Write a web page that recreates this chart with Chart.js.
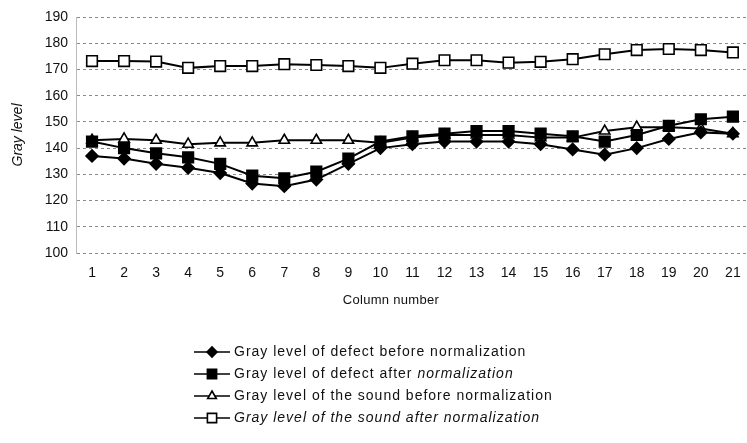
<!DOCTYPE html>
<html>
<head>
<meta charset="utf-8">
<script src="https://cdn.jsdelivr.net/npm/chart.js@4"></script>
<style>
  html, body { margin: 0; padding: 0; background: #fff; overflow: hidden; }
  #wrap { width: 758px; height: 443px; }
</style>
</head>
<body>
<div id="wrap"><canvas id="myChart"></canvas></div>
<script>
// values
const columns = ['1','2','3','4','5','6','7','8','9','10','11','12','13','14','15','16','17','18','19','20','21'];
const defectBefore = [137, 136, 134, 132.5, 130.5, 126.5, 125.5, 128, 134, 140, 141.5, 142.5, 142.5, 142.5, 141.5, 139.5, 137.5, 140, 143.5, 146, 145.5];
const defectAfter = [142.5, 140, 138, 136.5, 134, 129.5, 128.5, 131, 136, 142.5, 144.5, 145.5, 146.5, 146.5, 145.5, 144.5, 142.5, 145, 148.5, 151, 152];
const soundBefore = [143, 143.5, 143, 141.5, 142, 142, 143, 143, 143, 142, 144, 145, 145, 145, 144, 144, 146.5, 148, 148, 147.5, 145.5];
const soundAfter = [173.2, 173.2, 173, 170.6, 171.3, 171.3, 172, 171.7, 171.3, 170.6, 172.2, 173.5, 173.5, 172.6, 172.9, 173.9, 175.8, 177.4, 177.8, 177.4, 176.5];
const yTicks = [100, 110, 120, 130, 140, 150, 160, 170, 180, 190];

const legendRows = [
  [['Gray level of defect before normalization', false]],
  [['Gray level of defect after ', false], ['normalization', true]],
  [['Gray level of the sound before normalization', false]],
  [['Gray level of the sound after normalization', true]]
];

const FONT = '"Liberation Sans", Arial, sans-serif';

// x title + line/marker legend under the plot
const extras = {
  id: 'extras',
  afterDraw(chart) {
    const c = chart.ctx;
    c.save();
    c.fillStyle = '#111';
    c.font = '13px ' + FONT;
    c.textAlign = 'center';
    c.textBaseline = 'middle';
    c.letterSpacing = '0.3px';
    c.fillText('Column number', 391, 300);

    c.letterSpacing = '1px';
    const rowY = [352, 374, 396, 418];
    chart.data.datasets.forEach((ds, i) => {
      const y = rowY[i];
      c.strokeStyle = '#000';
      c.lineWidth = 1.4;
      c.beginPath();
      c.moveTo(194, y);
      c.lineTo(230, y);
      c.stroke();
      c.fillStyle = ds.pointBackgroundColor;
      c.lineWidth = 1.6;
      Chart.helpers.drawPoint(c, {
        pointStyle: ds.pointStyle,
        radius: ds.pointRadius - 1,
        borderWidth: 1.6
      }, 212, y);
      c.fillStyle = '#111';
      c.textAlign = 'left';
      let x = 234;
      legendRows[i].forEach(([txt, it]) => {
        c.font = (it ? 'italic ' : '') + '14px ' + FONT;
        c.fillText(txt, x, y);
        x += c.measureText(txt).width;
      });
    });
    c.restore();
  }
};

function series(label, data, style, fill, r) {
  return {
    label: label,
    data: data,
    borderColor: '#000',
    borderWidth: 2,
    pointStyle: style,
    pointRadius: r,
    pointHoverRadius: r,
    pointBorderWidth: 1.6,
    pointBorderColor: '#000',
    pointBackgroundColor: fill,
    tension: 0
  };
}

let ctx = document.getElementById('myChart').getContext('2d');
let myChart = new Chart(ctx, {
  type: 'line',
  data: {
    labels: columns,
    datasets: [
      series('Gray level of defect before normalization', defectBefore, 'rectRot', '#000', 6),
      series('Gray level of defect after normalization', defectAfter, 'rect', '#000', 7.5),
      series('Gray level of the sound before normalization', soundBefore, 'triangle', '#fff', 6),
      series('Gray level of the sound after normalization', soundAfter, 'rect', '#fff', 7.5)
    ]
  },
  options: {
    responsive: true,
    maintainAspectRatio: false,
    animation: false,
    layout: { padding: { top: 17, right: 0, bottom: 0, left: 0 } },
    plugins: {
      legend: { display: false },
      tooltip: { enabled: false }
    },
    scales: {
      x: {
        offset: true,
        grid: { display: false, drawTicks: false },
        border: { display: false },
        ticks: {
          color: '#111',
          padding: 12,
          font: { family: FONT, size: 14 }
        },
        afterFit: (s) => { s.height = 190; }
      },
      y: {
        min: 100,
        max: 190,
        afterBuildTicks: (s) => { s.ticks = yTicks.map(v => ({ value: v })); },
        grid: {
          color: '#8a8a8a',
          lineWidth: 1,
          drawTicks: false
        },
        border: { display: true, color: '#bbb', dash: [3, 3] },
        ticks: {
          color: '#111',
          padding: 8,
          font: { family: FONT, size: 14 }
        },
        title: {
          display: true,
          text: 'Gray level',
          color: '#111',
          padding: { top: 10, bottom: 0 },
          font: { family: FONT, size: 14, style: 'italic' }
        },
        afterFit: (s) => { s.width = 76; }
      }
    }
  },
  plugins: [extras]
});
</script>
</body>
</html>
